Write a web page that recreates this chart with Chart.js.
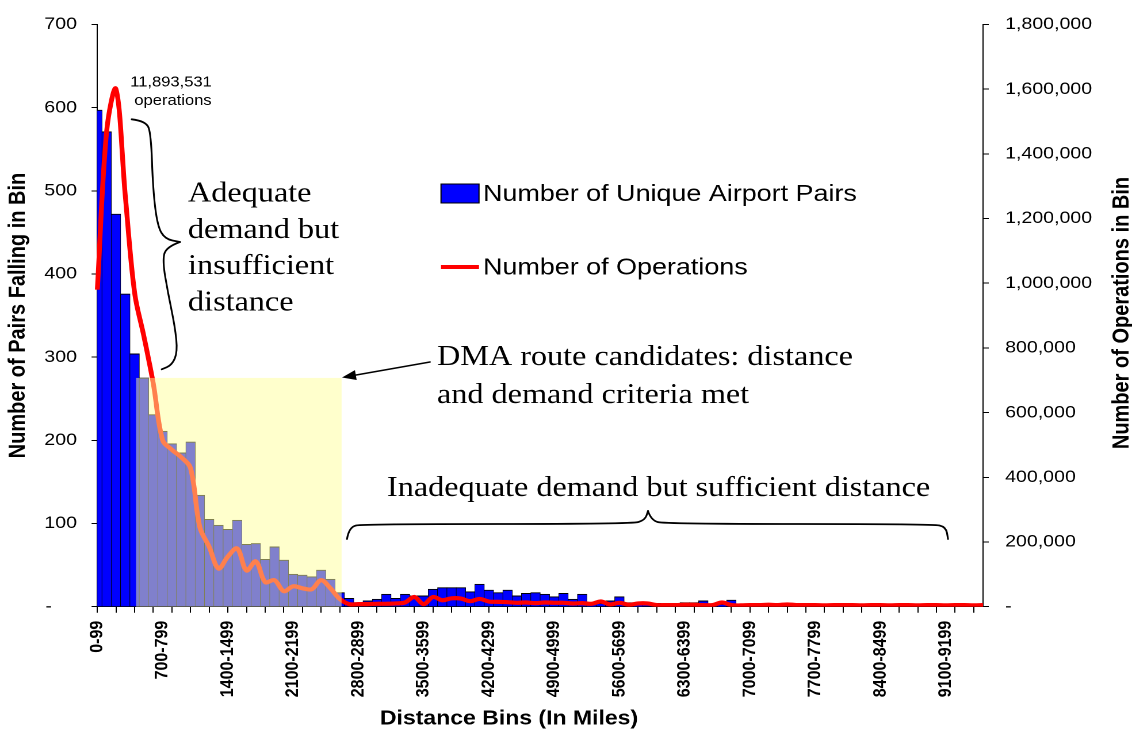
<!DOCTYPE html>
<html>
<head>
<meta charset="utf-8">
<title>Airport pairs by distance bin</title>
<script src="https://cdn.jsdelivr.net/npm/chart.js@4.4.1/dist/chart.umd.min.js"></script>
<style>
  html, body { margin: 0; padding: 0; background: #fff; }
  #wrap { width: 1132px; height: 736px; overflow: hidden; }
  /* the original picture is stretched sideways, so draw narrow and stretch */
  #chart { width: 984px; height: 736px; transform: scaleX(1.15041); transform-origin: 0 0; }
</style>
</head>
<body>
<div id="wrap"><canvas id="chart" width="984" height="736"></canvas></div>
<script>
// Bins of 100 miles: 0-99, 100-199, ... 9500-9599
const binSize = 100;
const binCount = 96;
const binLabels = [];
for (let i = 0; i < binCount; i++) {
  binLabels.push(`${i * binSize}-${i * binSize + binSize - 1}`);
}

// Number of unique airport pairs in each bin (left axis)
const pairCounts = [
  597, 571, 472, 376, 304, 275, 231, 211, 196, 185,
  198, 134, 105, 98, 93, 104, 75, 76, 57, 72,
  56, 39, 38, 36, 44, 33, 17, 10, 5, 7,
  9, 15, 10, 15, 13, 13, 21, 23, 23, 23,
  18, 27, 20, 17, 20, 13, 16, 17, 15, 12,
  16, 9, 15, 3, 4, 7, 12, 5, 3, 4,
  4, 2, 3, 5, 5, 7, 2, 3, 8, 2,
  2, 1, 2, 1, 1, 1, 2, 1, 1, 1,
  1, 0, 1, 1, 0, 1, 0, 1, 0, 0,
  1, 0, 0, 0, 0, 0
];

// Number of operations in each bin (right axis)
const operations = [
  980000, 1470000, 1600000, 1270000, 970000, 835000, 690000, 515000, 485000, 462000,
  428000, 245000, 185000, 118000, 155000, 180000, 112000, 140000, 76000, 82000,
  48000, 63000, 57000, 54000, 82000, 57000, 24000, 8000, 8000, 8000,
  9000, 9000, 10000, 13000, 30000, 8000, 30000, 20000, 26000, 25000,
  17000, 24000, 16000, 15000, 14000, 12000, 13000, 11000, 13000, 12000,
  12000, 10000, 11000, 9000, 16000, 7000, 12000, 6000, 10000, 10000,
  5000, 5000, 5000, 6000, 6000, 5000, 5000, 13000, 5000, 4000,
  5000, 5000, 6000, 5000, 7000, 5000, 5000, 5000, 4000, 5000,
  5000, 5000, 4000, 5000, 5000, 4000, 5000, 5000, 4000, 5000,
  5000, 4000, 5000, 5000, 4000, 5000
];

const labelEvery = 7;   // a label every 700 miles
const tickEvery = 2;    // a tick mark every 200 miles

// DMA candidate region (in bin index / pair count)
const highlight = { from: 4.15, to: 26.2, top: 275 };

const S = 1132 / 984;          // sideways stretch of the picture
const ix = (x) => x / S;       // picture x -> canvas x

const SANS = "'Liberation Sans', Arial, sans-serif";
const SERIF = "'Liberation Serif', 'Times New Roman', serif";

// decoration shapes, in picture pixels
const braceLeftTop = [[131.7, 119.3], [146, 121], [151, 134], [153, 190], [157.5, 226], [165, 239], [180, 242]];
const braceLeftBottom = [[180, 242], [166, 247], [162.5, 261], [168, 293], [175, 327], [177.5, 352], [172, 365], [161.7, 369.3]];
const braceWideLeft = [[347, 539], [349, 527], [363, 524], [632, 524], [645, 520], [648, 511]];
const braceWideRight = [[648, 511], [651, 520], [664, 524], [933, 524], [946, 527], [948, 539]];

function smoothPath(ctx, pts) {
  ctx.moveTo(pts[0][0], pts[0][1]);
  for (let i = 1; i < pts.length - 1; i++) {
    const mx = (pts[i][0] + pts[i + 1][0]) / 2;
    const my = (pts[i][1] + pts[i + 1][1]) / 2;
    ctx.quadraticCurveTo(pts[i][0], pts[i][1], mx, my);
  }
  const last = pts[pts.length - 1];
  ctx.lineTo(last[0], last[1]);
}

const annotate = {
  id: "annotate",
  afterDatasetsDraw(chart) {
    const { ctx, scales: { x, y } } = chart;
    const left = x.getPixelForValue(highlight.from);
    const right = x.getPixelForValue(highlight.to);
    const top = y.getPixelForValue(highlight.top);
    const bottom = y.getPixelForValue(0);
    ctx.save();
    ctx.fillStyle = "rgba(255, 255, 153, 0.5)";
    ctx.fillRect(left, top, right - left, bottom - top);
    ctx.restore();
  },
  afterDraw(chart) {
    const ctx = chart.ctx;

    ctx.save();
    ctx.fillStyle = "#000";
    ctx.textBaseline = "alphabetic";

    //peak note
    ctx.font = `14.4px ${SANS}`;
    ctx.textAlign = "center";
    ctx.fillText("11,893,531", ix(171), 86.5);
    ctx.fillText("operations", ix(173), 105);

    //call-outs
    ctx.font = `28px ${SERIF}`;
    ctx.textAlign = "left";
    ["Adequate", "demand but", "insufficient", "distance"].forEach((t, i) => {
      ctx.fillText(t, ix(188), 201.5 + i * 36.3);
    });
    ctx.fillText("DMA route candidates: distance", ix(437), 365);
    ctx.fillText("and demand criteria met", ix(437), 403);
    ctx.fillText("Inadequate demand but sufficient distance", ix(387), 496);

    //legend
    ctx.fillStyle = "#0000ff";
    ctx.fillRect(ix(441), 184, ix(479) - ix(441), 19);
    ctx.strokeStyle = "#000";
    ctx.lineWidth = 1;
    ctx.strokeRect(ix(441), 184, ix(479) - ix(441), 19);
    ctx.strokeStyle = "#ff0000";
    ctx.lineWidth = 4;
    ctx.beginPath();
    ctx.moveTo(ix(441), 267);
    ctx.lineTo(ix(479), 267);
    ctx.stroke();
    ctx.fillStyle = "#000";
    ctx.font = `23.4px ${SANS}`;
    ctx.textBaseline = "middle";
    ctx.fillText("Number of Unique Airport Pairs", ix(483), 194.5);
    ctx.fillText("Number of Operations", ix(483), 268);

    //axis titles
    ctx.font = `bold 20px ${SANS}`;
    ctx.textAlign = "center";
    ctx.fillText("Distance Bins (In Miles)", ix(509), 719);
    ctx.translate(ix(1122), 313);
    ctx.rotate(-Math.PI / 2);
    ctx.fillText("Number of Operations in Bin", 0, 0);
    ctx.restore();

    //braces and arrow, in picture pixels
    ctx.save();
    ctx.scale(1 / S, 1);
    ctx.strokeStyle = "#000";
    ctx.lineWidth = 1.8;
    ctx.lineJoin = "round";
    ctx.lineCap = "round";
    [braceLeftTop, braceLeftBottom, braceWideLeft, braceWideRight].forEach((pts) => {
      ctx.beginPath();
      smoothPath(ctx, pts);
      ctx.stroke();
    });

    const tip = [342, 377.5];
    const tail = [430, 362];
    const ang = Math.atan2(tip[1] - tail[1], tip[0] - tail[0]);
    ctx.lineWidth = 1.6;
    ctx.beginPath();
    ctx.moveTo(tail[0], tail[1]);
    ctx.lineTo(tip[0] - 10 * Math.cos(ang), tip[1] - 10 * Math.sin(ang));
    ctx.stroke();
    ctx.fillStyle = "#000";
    ctx.beginPath();
    ctx.moveTo(tip[0], tip[1]);
    ctx.lineTo(tip[0] - 14 * Math.cos(ang) + 5 * Math.sin(ang), tip[1] - 14 * Math.sin(ang) - 5 * Math.cos(ang));
    ctx.lineTo(tip[0] - 14 * Math.cos(ang) - 5 * Math.sin(ang), tip[1] - 14 * Math.sin(ang) + 5 * Math.cos(ang));
    ctx.closePath();
    ctx.fill();
    ctx.restore();
  }
};

Chart.defaults.font.family = SANS;
Chart.defaults.color = "#000";

const chart = new Chart(document.getElementById("chart"), {
  type: "bar",
  data: {
    labels: binLabels,
    datasets: [
      {
        type: "line",
        label: "Number of Operations",
        data: operations,
        yAxisID: "y1",
        borderColor: "#ff0000",
        borderWidth: 4.2,
        pointRadius: 0,
        tension: 0.35,
        order: 0
      },
      {
        label: "Number of Unique Airport Pairs",
        data: pairCounts,
        yAxisID: "y",
        backgroundColor: "#0000ff",
        borderColor: "#000",
        borderWidth: { top: 1, left: 0.5, right: 0.5, bottom: 0 },
        borderSkipped: false,
        barPercentage: 1,
        categoryPercentage: 1,
        clip: 0,
        order: 1
      }
    ]
  },
  options: {
    responsive: false,
    devicePixelRatio: 2,
    animation: false,
    layout: { padding: { top: 19, left: 0, right: 0, bottom: 0 } },
    plugins: {
      legend: { display: false },
      tooltip: { enabled: false }
    },
    scales: {
      x: {
        type: "category",
        offset: false,
        grid: {
          offset: false,
          drawOnChartArea: false,
          drawTicks: true,
          tickLength: 6,
          tickWidth: 1,
          tickColor: (ctx) => (ctx.index % tickEvery === 0 ? "#000" : "rgba(0,0,0,0)")
        },
        border: { display: true, color: "#000", width: 1 },
        ticks: {
          autoSkip: false,
          minRotation: 90,
          maxRotation: 90,
          padding: 8,
          color: "#000",
          font: { size: 16, weight: "bold" },
          callback: function (value, index) {
            return index % labelEvery === 0 ? this.getLabelForValue(value) : "";
          }
        },
        afterFit: (scale) => { scale.height = 129.3; }
      },
      y: {
        position: "left",
        min: 0,
        max: 700,
        grid: { drawOnChartArea: false, tickLength: 5, tickColor: "#000" },
        border: { display: true, color: "#000", width: 1 },
        ticks: {
          stepSize: 100,
          padding: 12.7,
          font: { size: 17 },
          callback: (v) => (v === 0 ? "-\u2002\u2002 " : v)
        },
        title: {
          display: true,
          text: "Number of Pairs Falling in Bin",
          color: "#000",
          font: { size: 20, weight: "bold" },
          padding: { top: 4, bottom: 0 }
        },
        afterFit: (scale) => { scale.width = 84.6; }
      },
      y1: {
        position: "right",
        min: 0,
        max: 1800000,
        grid: { drawOnChartArea: false, tickLength: 5, tickColor: "#000" },
        border: { display: true, color: "#000", width: 1 },
        ticks: {
          stepSize: 200000,
          padding: 14.2,
          font: { size: 17 },
          callback: (v) => (v === 0 ? "-" : v.toLocaleString("en-US"))
        },
        afterFit: (scale) => { scale.width = 129.5; }
      }
    }
  },
  plugins: [annotate]
});
console.log(chart.chartArea);
</script>
</body>
</html>
